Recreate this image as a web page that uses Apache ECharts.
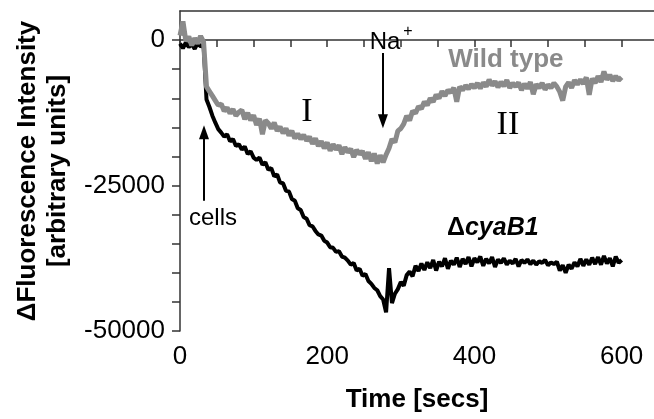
<!DOCTYPE html>
<html><head><meta charset="utf-8">
<script src="https://cdn.jsdelivr.net/npm/echarts@6/dist/echarts.min.js"></script>
<style>html,body{margin:0;padding:0;background:#fff}#c{width:654px;height:419px}</style>
</head><body><div id="c"></div>
<script>
// Time grid [s]
const times = [0,4,8,12,16,20,24,28,32,36,40,44,48,52,56,60,64,68,72,76,80,84,88,92,96,100,104,108,112,116,120,124,128,132,136,140,144,148,152,156,160,164,168,172,176,180,184,188,192,196,200,204,208,212,216,220,224,228,232,236,240,244,248,252,256,260,264,268,272,276,280,284,288,292,296,300,304,308,312,316,320,324,328,332,336,340,344,348,352,356,360,364,368,372,376,380,384,388,392,396,400,404,408,412,416,420,424,428,432,436,440,444,448,452,456,460,464,468,472,476,480,484,488,492,496,500,504,508,512,516,520,524,528,532,536,540,544,548,552,556,560,564,568,572,576,580,584,588,592,596,600];

// Wild type trace
const wildType = [
 800,3200,-200,600,-900,300,-600,700,-300,-8000,
 -8800,-9600,-10400,-11200,-11000,-12200,-11600,-12600,-11900,-13000,
 -12400,-12000,-13600,-12500,-13800,-12900,-14600,-13500,-16200,-13800,
 -14300,-15200,-14200,-15600,-14900,-16000,-15200,-16400,-15600,-16900,
 -16100,-17000,-16300,-17300,-16600,-17800,-16900,-18200,-17400,-18600,
 -17600,-19000,-17900,-18800,-18100,-19600,-18400,-19300,-18700,-20100,
 -18900,-19600,-19100,-20400,-19300,-20800,-19500,-21200,-19800,-21000,
 -19700,-18600,-17000,-17600,-15600,-15200,-14400,-13000,-13800,-12200,
 -12600,-11400,-11800,-10600,-11200,-10000,-10600,-9400,-10000,-8800,
 -9600,-8600,-9000,-8200,-10600,-8000,-8600,-7800,-8400,-7600,
 -8200,-7400,-8300,-7300,-8000,-6800,-7800,-7100,-8100,-7200,
 -7900,-6900,-8200,-7400,-8000,-7300,-8600,-7500,-8300,-7200,
 -9300,-7600,-8200,-7400,-8500,-7700,-8200,-7400,-8000,-8900,
 -10400,-8000,-7300,-8200,-6900,-7600,-6800,-7500,-6400,-9400,
 -6600,-7400,-6200,-7200,-5400,-6800,-6000,-7000,-6200,-6900,
 -6400
];

// ΔcyaB1 trace
const cyaB1 = [
 -600,-1400,-400,-1200,-700,-1500,-500,-1100,-800,-10200,
 -11500,-13000,-14200,-15300,-15900,-16600,-16200,-17400,-17000,-18200,
 -17900,-18800,-18300,-19600,-19100,-20200,-20600,-20200,-21400,-21000,
 -22300,-22000,-23400,-23100,-24500,-24600,-25900,-26000,-27300,-27600,
 -28900,-29200,-30400,-30700,-31800,-32000,-32800,-33400,-33600,-34500,
 -34800,-35600,-35700,-36400,-36300,-37200,-37400,-37900,-38600,-38300,
 -39600,-39300,-40500,-40200,-41400,-41900,-42600,-43000,-44000,-44600,
 -46800,-39200,-45200,-43600,-42800,-41600,-42200,-40400,-39800,-40600,
 -38800,-39700,-38400,-39500,-38200,-39200,-37800,-39600,-38100,-38900,
 -37500,-39300,-37900,-38600,-37400,-39000,-37600,-38500,-37300,-38900,
 -37500,-38200,-37200,-38800,-37600,-38400,-37300,-39000,-37700,-38300,
 -37500,-38600,-37900,-38400,-37600,-38900,-37800,-38300,-37700,-38500,
 -37900,-38600,-38000,-38300,-37800,-38700,-38200,-38500,-38100,-39600,
 -38700,-40000,-38600,-39300,-38200,-38900,-37600,-38800,-37700,-38600,
 -37400,-38500,-37300,-38600,-37100,-38400,-37500,-38900,-37200,-38300,
 -37800
];

const xTicks = [0,50,100,150,200,250,300,350,400,450,500,550,600];
const xTickLabels = [0, 200, 400, 600];
const yTicks = [-50000,-45000,-40000,-35000,-30000,-25000,-20000,-15000,-10000,-5000,0];
const yTickLabels = [0, -25000, -50000];

// Annotation arrows (data coords): [from, to]
const arrowCells = [[32.6, -27600], [32.6, -15860]];
const arrowNa = [[275.7, -2240], [275.7, -13960]];

const SANS = '"Liberation Sans", Arial, sans-serif';
const SERIF = '"Liberation Serif", "Times New Roman", serif';

function txt(coord, formatter, style) {
  return {
    coord: coord, symbol: 'circle', symbolSize: 0, itemStyle: {color: 'rgba(0,0,0,0)'},
    label: Object.assign({show: true, position: 'inside', formatter: formatter,
      align: 'center', verticalAlign: 'middle', color: '#000', fontFamily: SANS, fontSize: 24}, style)
  };
}

const axisLineStyle = {color: '#333', width: 1.5};

const chart = echarts.init(document.getElementById('c'), null, {renderer: 'canvas'});
chart.setOption({
  animation: false,
  backgroundColor: '#fff',
  grid: {left: 180, right: 0, top: 11, bottom: 88, containLabel: false},
  xAxis: [{
    type: 'value', min: 0, max: 644, interval: 50,
    axisLine: {show: true, lineStyle: axisLineStyle},
    axisTick: {show: true, length: 7, lineStyle: axisLineStyle, customValues: xTicks},
    axisLabel: {customValues: xTickLabels, formatter: v => String(v), fontSize: 26, color: '#000', fontFamily: SANS, margin: 13},
    splitLine: {show: false},
    name: 'Time [secs]', nameLocation: 'middle', nameGap: 56,
    nameTextStyle: {fontSize: 26, fontWeight: 'bold', color: '#000', fontFamily: SANS}
  }, {
    type: 'value', position: 'top', min: 0, max: 644,
    axisLine: {show: true, lineStyle: axisLineStyle},
    axisTick: {show: false}, axisLabel: {show: false}, splitLine: {show: false}
  }],
  yAxis: {
    type: 'value', min: -50000, max: 5000, interval: 5000,
    axisLine: {show: true, lineStyle: axisLineStyle},
    axisTick: {show: true, length: 8, lineStyle: axisLineStyle, customValues: yTicks},
    axisLabel: {customValues: yTickLabels, formatter: v => String(v), fontSize: 26, color: '#000', fontFamily: SANS, margin: 15},
    splitLine: {show: false},
    name: 'ΔFluorescence Intensity\n[arbitrary units]', nameLocation: 'middle', nameGap: 107, nameRotate: 90,
    nameTextStyle: {fontSize: 26, fontWeight: 'bold', color: '#000', fontFamily: SANS, lineHeight: 30, align: 'center'}
  },
  series: [{
    type: 'line', name: 'ΔcyaB1', z: 2,
    data: times.map((t, i) => [t, cyaB1[i]]),
    showSymbol: false, symbol: 'none',
    lineStyle: {color: '#000', width: 4},
    markLine: {
      silent: true, symbol: ['none', 'triangle'], symbolSize: [10, 14],
      label: {show: false},
      lineStyle: {color: '#000', width: 2, type: 'solid'},
      data: [
        [{coord: arrowCells[0]}, {coord: arrowCells[1]}],
        [{coord: arrowNa[0]}, {coord: arrowNa[1]}]
      ]
    }
  }, {
    type: 'line', name: 'Wild type', z: 3,
    data: times.map((t, i) => [t, wildType[i]]),
    showSymbol: false, symbol: 'none',
    lineStyle: {color: '#8a8a8a', width: 5},
    markPoint: {
      silent: true,
      data: [
        txt([172.5, -12400], 'I', {fontFamily: SERIF, fontSize: 34}),
        txt([445.5, -14650], 'II', {fontFamily: SERIF, fontSize: 34}),
        txt([278.5, -340], 'Na', {fontSize: 24}),
        txt([309.7, 1380], '+', {fontSize: 16}),
        txt([442.8, -3450], 'Wild type', {fontSize: 26, fontWeight: 'bold', color: '#8a8a8a'}),
        txt([425, -32240], '{d|Δ}{i|cyaB1}', {rich: {
          d: {fontSize: 25, fontWeight: 'bold', fontFamily: SANS, color: '#000'},
          i: {fontSize: 25, fontWeight: 'bold', fontStyle: 'italic', fontFamily: SANS, color: '#000'}
        }}),
        txt([44.8, -30690], 'cells', {fontSize: 24})
      ]
    }
  }]
});
</script>
</body></html>
